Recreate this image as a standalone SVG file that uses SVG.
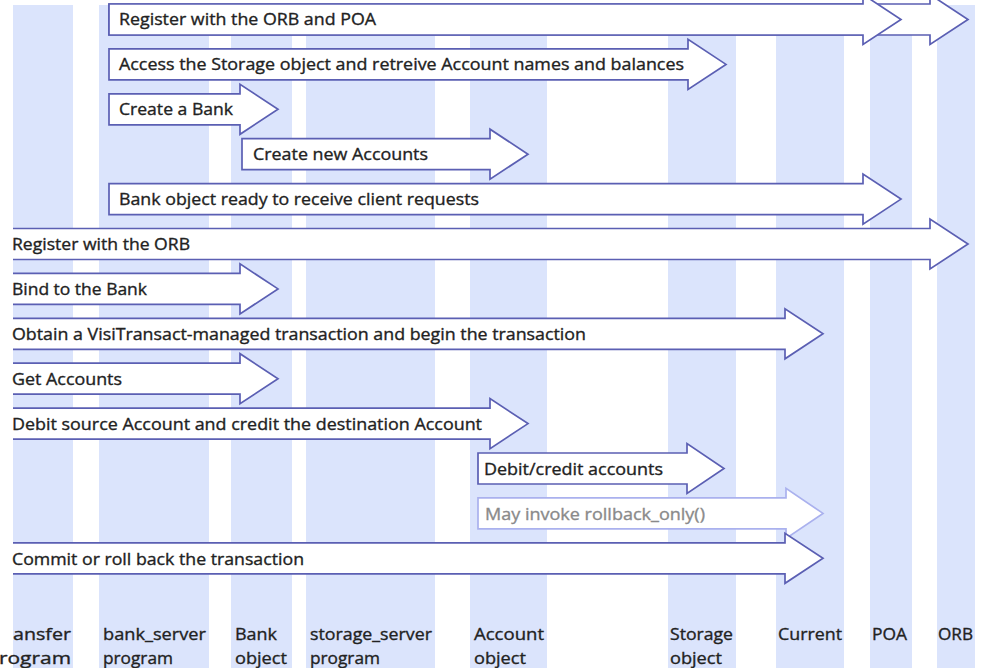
<svg xmlns="http://www.w3.org/2000/svg" width="984" height="668" viewBox="0 0 984 668">
  <defs>
    <style>
      .lane { fill: #dbe4fc; }
      .lbl { font-family: "Open Sans", "Liberation Sans", sans-serif; font-size: 17px; fill: #222; stroke: #222; stroke-width: 0.35; }
      .msg { fill: #ffffff; stroke: #5b5fb3; stroke-width: 1.7; stroke-linejoin: miter; }
      .msg.faint { stroke: #aab1ee; }
      .txt { font-family: "Open Sans", "Liberation Sans", sans-serif; font-size: 17px; fill: #222; stroke: #222; stroke-width: 0.35; }
      .txt.faint { fill: #8a8a8a; stroke: #8a8a8a; }
    </style>
    <clipPath id="laneArea">
      <rect x="13" y="0" width="971" height="668"/>
    </clipPath>
  </defs>

  <rect width="984" height="668" fill="#ffffff"/>

  <!-- lifelines: a shaded column with its caption underneath -->
  <g id="transfer-program">
    <rect class="lane" x="13" y="5" width="60" height="663"/>
    <text class="lbl" x="13" y="640" textLength="58" lengthAdjust="spacingAndGlyphs">ansfer</text>
    <text class="lbl" x="-1" y="664" textLength="72" lengthAdjust="spacingAndGlyphs">rogram</text>
  </g>
  <g id="bank-server-program">
    <rect class="lane" x="99" y="5" width="110" height="663"/>
    <text class="lbl" x="103" y="640" textLength="103" lengthAdjust="spacingAndGlyphs">bank_server</text>
    <text class="lbl" x="103" y="664" textLength="70" lengthAdjust="spacingAndGlyphs">program</text>
  </g>
  <g id="bank-object">
    <rect class="lane" x="231" y="5" width="61" height="663"/>
    <text class="lbl" x="235" y="640" textLength="42" lengthAdjust="spacingAndGlyphs">Bank</text>
    <text class="lbl" x="235" y="664" textLength="52" lengthAdjust="spacingAndGlyphs">object</text>
  </g>
  <g id="storage-server-program">
    <rect class="lane" x="306" y="5" width="129" height="663"/>
    <text class="lbl" x="310" y="640" textLength="122" lengthAdjust="spacingAndGlyphs">storage_server</text>
    <text class="lbl" x="310" y="664" textLength="70" lengthAdjust="spacingAndGlyphs">program</text>
  </g>
  <g id="account-object">
    <rect class="lane" x="470" y="5" width="77" height="663"/>
    <text class="lbl" x="474" y="640" textLength="70" lengthAdjust="spacingAndGlyphs">Account</text>
    <text class="lbl" x="474" y="664" textLength="52" lengthAdjust="spacingAndGlyphs">object</text>
  </g>
  <g id="storage-object">
    <rect class="lane" x="668" y="5" width="68" height="663"/>
    <text class="lbl" x="670" y="640" textLength="63" lengthAdjust="spacingAndGlyphs">Storage</text>
    <text class="lbl" x="670" y="664" textLength="52" lengthAdjust="spacingAndGlyphs">object</text>
  </g>
  <g id="current">
    <rect class="lane" x="776" y="5" width="68" height="663"/>
    <text class="lbl" x="778" y="640" textLength="64" lengthAdjust="spacingAndGlyphs">Current</text>
  </g>
  <g id="poa">
    <rect class="lane" x="870" y="5" width="42" height="663"/>
    <text class="lbl" x="872" y="640" textLength="35" lengthAdjust="spacingAndGlyphs">POA</text>
  </g>
  <g id="orb">
    <rect class="lane" x="937" y="5" width="38" height="663"/>
    <text class="lbl" x="938" y="640" textLength="35" lengthAdjust="spacingAndGlyphs">ORB</text>
  </g>

  <!-- messages: block arrows, body 31px high, head 50px high -->
  <g id="connectors" clip-path="url(#laneArea)">
    <!-- row 1: two heads, ORB behind POA -->
    <path class="msg" d="M109,4 H930 V-5.5 L968,19.5 L930,44.5 V35 H109 Z"/>
    <path class="msg" d="M109,4 H863 V-5.5 L901,19.5 L863,44.5 V35 H109 Z"/>
    <path class="msg" d="M109,48.9 H688 V39.4 L726,64.4 L688,89.4 V79.9 H109 Z"/>
    <path class="msg" d="M109,93.8 H240 V84.3 L278,109.3 L240,134.3 V124.8 H109 Z"/>
    <path class="msg" d="M242,138.7 H490 V129.2 L528,154.2 L490,179.2 V169.7 H242 Z"/>
    <path class="msg" d="M109,183.6 H863 V174.1 L901,199.1 L863,224.1 V214.6 H109 Z"/>
    <path class="msg" d="M-5,228.5 H930 V219 L968,244 L930,269 V259.5 H-5 Z"/>
    <path class="msg" d="M-5,273.4 H240 V263.9 L278,288.9 L240,313.9 V304.4 H-5 Z"/>
    <path class="msg" d="M-5,318.3 H785 V308.8 L823,333.8 L785,358.8 V349.3 H-5 Z"/>
    <path class="msg" d="M-5,363.2 H240 V353.7 L278,378.7 L240,403.7 V394.2 H-5 Z"/>
    <path class="msg" d="M-5,408.1 H490 V398.6 L528,423.6 L490,448.6 V439.1 H-5 Z"/>
    <path class="msg" d="M478,453 H687 V443.5 L724,468.5 L687,493.5 V484 H478 Z"/>
    <path class="msg faint" d="M478,497.9 H786 V488.4 L823,513.4 L786,538.4 V528.9 H478 Z"/>
    <path class="msg" d="M-5,542.8 H785 V533.3 L823,558.3 L785,583.3 V573.8 H-5 Z"/>
  </g>

  <!-- message captions -->
  <g id="captions">
    <text class="txt" x="119" y="25" textLength="257" lengthAdjust="spacingAndGlyphs">Register with the ORB and POA</text>
    <text class="txt" x="119" y="70" textLength="565" lengthAdjust="spacingAndGlyphs">Access the Storage object and retreive Account names and balances</text>
    <text class="txt" x="119" y="115" textLength="114" lengthAdjust="spacingAndGlyphs">Create a Bank</text>
    <text class="txt" x="253" y="160" textLength="175" lengthAdjust="spacingAndGlyphs">Create new Accounts</text>
    <text class="txt" x="119" y="205" textLength="360" lengthAdjust="spacingAndGlyphs">Bank object ready to receive client requests</text>
    <text class="txt" x="12" y="249.5" textLength="178" lengthAdjust="spacingAndGlyphs">Register with the ORB</text>
    <text class="txt" x="12" y="294.5" textLength="135" lengthAdjust="spacingAndGlyphs">Bind to the Bank</text>
    <text class="txt" x="12" y="339.5" textLength="574" lengthAdjust="spacingAndGlyphs">Obtain a VisiTransact-managed transaction and begin the transaction</text>
    <text class="txt" x="12" y="384.5" textLength="110" lengthAdjust="spacingAndGlyphs">Get Accounts</text>
    <text class="txt" x="12" y="429.5" textLength="470" lengthAdjust="spacingAndGlyphs">Debit source Account and credit the destination Account</text>
    <text class="txt" x="484" y="474.5" textLength="179" lengthAdjust="spacingAndGlyphs">Debit/credit accounts</text>
    <text class="txt faint" x="485" y="519.5" textLength="220" lengthAdjust="spacingAndGlyphs">May invoke rollback_only()</text>
    <text class="txt" x="12" y="564.5" textLength="292" lengthAdjust="spacingAndGlyphs">Commit or roll back the transaction</text>
  </g>
</svg>
